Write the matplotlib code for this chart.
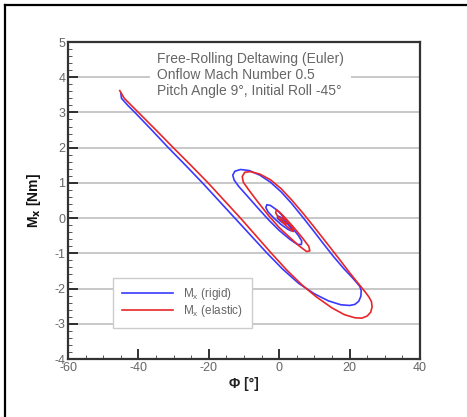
import numpy as np
import matplotlib
matplotlib.use('Agg')
import matplotlib.pyplot as plt
from matplotlib.lines import Line2D

# roll angle [deg] and rolling moment [Nm]
phi_rigid = [-45.0, -44.8, -43.0, -41.0, -36.2, -31.5, -26.6, -21.8, -17.2, -12.6,
             -8.0, -3.4, 1.0, 5.5, 10.0, 14.0, 17.5, 20.0, 21.5, 22.6,
             23.2, 23.3, 22.9, 22.0, 20.5, 18.5, 15.5, 12.5, 9.5, 6.5,
             3.5, 0.5, -2.5, -5.5, -8.5, -11.0, -12.6, -13.2, -12.8, -11.5,
             -9.0, -6.0, -3.0, 0.0, 3.0, 5.2, 6.3, 6.4, 5.5, 3.5,
             1.5, -0.5, -2.5, -3.5, -3.8, -3.2, -1.5, 0.5, 2.5, 3.4,
             3.3, 2.0, 0.5, -0.4, -0.5, 0.3, 1.3, 1.8]
mx_rigid = [3.55, 3.40, 3.20, 3.00, 2.50, 2.00, 1.50, 1.00, 0.50, 0.00,
            -0.50, -1.00, -1.45, -1.85, -2.15, -2.35, -2.46, -2.48, -2.45, -2.36,
            -2.22, -2.06, -1.94, -1.83, -1.66, -1.45, -1.10, -0.72, -0.33, 0.05,
            0.42, 0.75, 1.02, 1.22, 1.35, 1.38, 1.33, 1.22, 1.08, 0.90,
            0.62, 0.28, -0.05, -0.35, -0.60, -0.75, -0.75, -0.65, -0.50, -0.25,
            0.00, 0.22, 0.36, 0.38, 0.30, 0.18, 0.00, -0.18, -0.32, -0.36,
            -0.28, -0.12, 0.02, 0.06, 0.00, -0.08, -0.15, -0.18]

phi_elastic = [-45.3, -44.9, -44.0, -42.0, -40.0, -35.0, -30.1, -25.1, -20.2, -15.6,
               -11.0, -6.6, -2.2, 2.2, 6.5, 10.6, 15.0, 18.5, 21.5, 23.5,
               25.0, 26.0, 26.4, 26.2, 25.5, 24.3, 22.5, 20.0, 17.5, 15.0,
               12.5, 9.5, 6.5, 3.5, 0.5, -2.5, -5.5, -8.2, -9.8, -10.5,
               -10.2, -8.5, -6.0, -3.0, 0.0, 3.0, 5.8, 7.8, 8.7, 8.4,
               6.5, 4.0, 1.5, 0.0, -0.8, -1.0, 0.0, 2.0, 3.6, 4.0,
               3.6, 2.2, 1.0, 0.5, 1.0, 2.0]
mx_elastic = [3.62, 3.55, 3.40, 3.20, 3.00, 2.50, 2.00, 1.50, 1.00, 0.50,
              0.00, -0.50, -1.00, -1.48, -1.90, -2.24, -2.55, -2.74, -2.83, -2.84,
              -2.78, -2.67, -2.52, -2.37, -2.24, -2.08, -1.86, -1.55, -1.22, -0.90,
              -0.58, -0.20, 0.17, 0.52, 0.84, 1.09, 1.25, 1.32, 1.30, 1.18,
              1.02, 0.78, 0.45, 0.07, -0.27, -0.55, -0.80, -0.95, -0.93, -0.80,
              -0.55, -0.25, 0.03, 0.18, 0.23, 0.15, -0.02, -0.22, -0.36, -0.38,
              -0.25, -0.08, 0.02, 0.00, -0.08, -0.15]

annotation = ['Free-Rolling Deltawing (Euler)',
              'Onflow Mach Number 0.5',
              'Pitch Angle 9\u00b0, Initial Roll -45\u00b0']

plt.rcParams['font.family'] = ['Liberation Sans', 'DejaVu Sans']
plt.rcParams['axes.unicode_minus'] = False

fig = plt.figure(figsize=(4.67, 4.17), dpi=100)
ax = fig.add_axes([68 / 467, 58 / 417, 352 / 467, 317 / 417])

# frame around the figure (right and bottom edges are cut off)
fig.add_artist(Line2D([4.5 / 467, 4.5 / 467], [0, 1 - 5 / 417], color='black', lw=1.6,
                      transform=fig.transFigure))
fig.add_artist(Line2D([4.5 / 467, 1], [1 - 5 / 417, 1 - 5 / 417], color='black', lw=1.6,
                      transform=fig.transFigure))

for yv in range(-3, 5):
    ax.axhline(yv, color='#c8c8c8', lw=1.4, zorder=0)

ax.plot(phi_rigid, mx_rigid, color='#3a3aff', lw=1.2, label='M$_\\mathregular{x}$ (rigid)', zorder=3)
ax.plot(phi_elastic, mx_elastic, color='#e8262a', lw=1.2, label='M$_\\mathregular{x}$ (elastic)', zorder=4)

ax.set_xlim(-60, 40)
ax.set_ylim(-4, 5)
ax.set_xticks(np.arange(-60, 41, 20))
ax.set_yticks(np.arange(-4, 6, 1))
ax.set_xticks(np.arange(-60, 41, 5), minor=True)
ax.set_yticks(np.arange(-4, 5.01, 0.2), minor=True)
ax.tick_params(which='major', direction='in', length=7, width=1.3, color='#222222',
               labelsize=9, labelcolor='#666666', pad=2)
ax.tick_params(which='minor', direction='in', length=3, width=0.7, color='#555555')
ax.tick_params(top=False, right=False, which='both')

for s in ax.spines.values():
    s.set_linewidth(1.6)
    s.set_color('#333333')

ax.set_xlabel('\u03a6 [\u00b0]', fontsize=10, fontweight='bold', color='#222222', labelpad=2)
ax.set_ylabel('M$_\\mathbf{x}$ [Nm]', fontsize=10, fontweight='bold', color='#111111', labelpad=8)

ax.text(-34.6, 4.72, '\n'.join(annotation), fontsize=10, color='#666666', va='top', ha='left',
        linespacing=1.2, zorder=5,
        bbox=dict(facecolor='white', edgecolor='none', pad=5))

leg = ax.legend(loc='lower left', bbox_to_anchor=(0.128, 0.098), borderaxespad=0,
                fontsize=8.5, handlelength=4.3, handletextpad=0.9, labelspacing=0.05,
                fancybox=False, framealpha=1, edgecolor='#cccccc', borderpad=0.75)
for t in leg.get_texts():
    t.set_color('#666666')

fig.savefig('out.png', dpi=100)
